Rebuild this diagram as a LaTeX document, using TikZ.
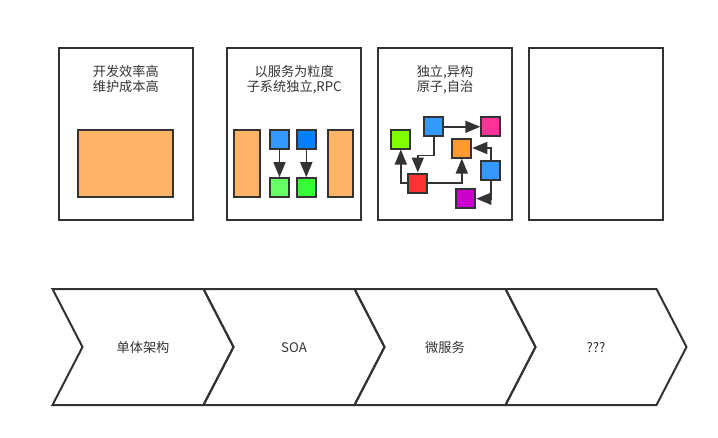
\documentclass[tikz,border=0pt]{standalone}
\usepackage{xcolor}
\usepackage{tikz}
\usepackage{fontspec}
\newfontfamily\cjk{Noto Sans CJK SC}
\definecolor{darkline}{RGB}{51, 51, 51}
\definecolor{monoorange}{RGB}{255, 179, 102}
\definecolor{svcblue}{RGB}{51, 153, 255}
\definecolor{svcdeepblue}{RGB}{0, 127, 255}
\definecolor{svcgreen}{RGB}{102, 255, 102}
\definecolor{svcdeepgreen}{RGB}{51, 255, 51}
\definecolor{microlime}{RGB}{128, 255, 0}
\definecolor{micropink}{RGB}{255, 51, 153}
\definecolor{microorange}{RGB}{255, 153, 51}
\definecolor{microred}{RGB}{255, 51, 51}
\definecolor{micropurple}{RGB}{204, 0, 204}
\usetikzlibrary{arrows.meta, calc}

\begin{document}
\begin{tikzpicture}[
    x=1pt, y=-1pt,
    panel/.style={rectangle, draw=darkline, line width=2pt, minimum width=134.5pt, minimum height=172pt},
    part/.style={rectangle, draw=darkline, line width=2pt, inner sep=0pt},
    sq/.style={part, minimum width=19pt, minimum height=19pt},
    caption/.style={align=center, text=darkline, font=\cjk\fontsize{13.2}{15}\selectfont},
    arrow/.style={-{Triangle[length=15pt, width=12pt]}, line width=1.6pt, draw=darkline}
]
    \useasboundingbox (0,0) rectangle (718,437);

    % Panels
    \node[panel] (mono) at (125.8, 134) {};
    \node[panel] (soa) at (294.2, 134) {};
    \node[panel] (micro) at (445, 134) {};
    \node[panel] (next) at (596, 134) {};

    \node[caption] (monotext) at (125.8, 79.2) {开发效率高\\维护成本高};
    \node[caption] (soatext) at (294.2, 79.2) {以服务为粒度\\子系统独立,RPC};
    \node[caption] (microtext) at (445, 79.2) {独立,异构\\原子,自治};

    % Monolith
    \node[part, fill=monoorange, minimum width=95.6pt, minimum height=66.7pt] (app) at (125.5, 163.7) {};

    % SOA
    \node[part, fill=monoorange, minimum width=25.7pt, minimum height=66.7pt] (sysA) at (247.2, 163.7) {};
    \node[part, fill=monoorange, minimum width=25.7pt, minimum height=66.7pt] (sysB) at (340.5, 163.7) {};
    \node[sq, fill=svcblue] (svcA) at (279.5, 139) {};
    \node[sq, fill=svcdeepblue] (svcB) at (306.3, 139) {};
    \node[sq, fill=svcgreen] (subA) at (279.5, 187.7) {};
    \node[sq, fill=svcdeepgreen] (subB) at (306.3, 187.7) {};

    \draw[arrow] (svcA) -- (subA);
    \draw[arrow] (svcB) -- (subB);

    % Microservices
    \node[sq, fill=microlime] (mGreen) at (400.8, 139) {};
    \node[sq, fill=svcblue] (mBlue) at (433.8, 126.8) {};
    \node[sq, fill=micropink] (mPink) at (490.8, 126.8) {};
    \node[sq, fill=microorange] (mOrange) at (461.8, 148) {};
    \node[sq, fill=microred] (mRed) at (417.8, 183) {};
    \node[sq, fill=svcblue] (mBlueR) at (490.8, 170.8) {};
    \node[sq, fill=micropurple] (mPurple) at (465.8, 198.7) {};

    \draw[arrow] (mBlue) -- (mPink);
    \draw[arrow] (mBlue.south) -- ++(0, 18) -| (mRed.north);
    \draw[arrow] (mRed.west) -| (mGreen.south);
    \draw[arrow] (mRed.east) -| (mOrange.south);
    \draw[arrow] (mBlueR.north) |- (mOrange.east);
    \draw[arrow] (mBlueR.south) |- (mPurple.east);

    % Evolution chevrons
    \foreach \i/\name/\label in {0/stageA/单体架构, 1/stageB/SOA, 2/stageC/微服务, 3/stageD/???} {
        \pgfmathsetmacro{\L}{52.5 + 151*\i}
        \draw[line width=2pt, darkline, line join=miter]
            (\L, 289) -- (\L+151, 289) -- (\L+181, 347) -- (\L+151, 405)
            -- (\L, 405) -- (\L+30, 347) -- cycle;
        \node[caption] (\name) at (\L+90.5, 347.5) {\label};
    }

\end{tikzpicture}
\end{document}
